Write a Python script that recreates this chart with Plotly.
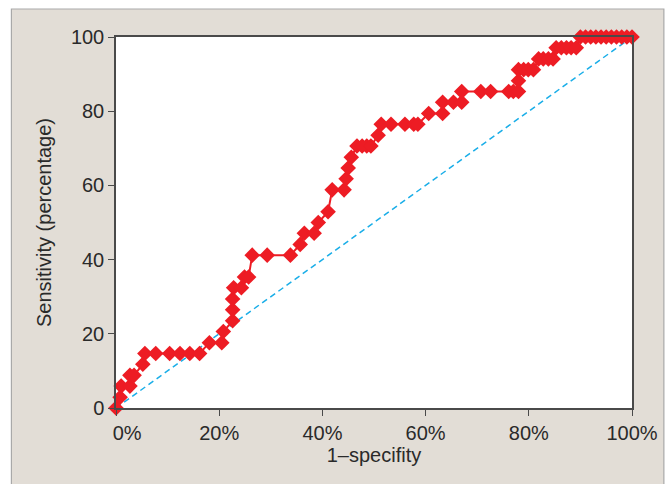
import plotly.graph_objects as go

# 1-specificity (%) and sensitivity (%)
fpr = [0, 0.8, 1.0, 2.7, 2.7, 3.5, 5.2, 5.6, 7.7, 10.4, 12.4, 14.3, 16.2, 18.1, 20.5, 20.8,
       22.6, 22.6, 22.6, 22.8, 24.3, 24.9, 25.7, 26.4, 29.3, 33.8, 35.7, 36.5, 38.4, 39.2,
       41.1, 41.9, 44.2, 44.6, 45.0, 45.6, 46.7, 47.7, 48.6, 49.4, 50.8, 51.4, 53.3, 56.0,
       57.7, 58.5, 60.6, 63.3, 63.3, 65.4, 67.0, 67.0, 70.7, 72.6, 76.1, 77.0, 78.0, 78.0,
       78.0, 79.0, 79.9, 80.9, 81.9, 82.8, 83.8, 84.7, 85.3, 86.3, 87.3, 88.2, 89.2,
       90.0, 91.0, 92.0, 93.0, 94.0, 95.0, 96.0, 97.0, 98.0, 99.0, 100.0]
sens = [0, 2.9, 5.9, 5.9, 8.8, 8.8, 11.8, 14.7, 14.7, 14.7, 14.7, 14.7, 14.7, 17.6, 17.6, 20.6,
        23.5, 26.5, 29.4, 32.4, 32.4, 35.3, 35.3, 41.2, 41.2, 41.2, 44.1, 47.1, 47.1, 50.0,
        52.9, 58.8, 58.8, 61.8, 64.7, 67.6, 70.6, 70.6, 70.6, 70.6, 73.5, 76.5, 76.5, 76.5,
        76.5, 76.5, 79.4, 79.4, 82.4, 82.4, 82.4, 85.3, 85.3, 85.3, 85.3, 85.3, 85.3, 88.2,
        91.2, 91.2, 91.2, 91.2, 94.1, 94.1, 94.1, 94.1, 97.1, 97.1, 97.1, 97.1, 97.1,
        100, 100, 100, 100, 100, 100, 100, 100, 100, 100, 100]
ref_x = [0, 100]
ref_y = [0, 100]
x_ticks = [0, 20, 40, 60, 80, 100]
x_ticktext = ["\u00a0\u00a0\u00a0\u00a00%", "20%", "40%", "60%", "80%", "100%"]
y_ticks = [0, 20, 40, 60, 80, 100]

fig = go.Figure()
fig.add_trace(go.Scatter(x=ref_x, y=ref_y, mode="lines",
                         line=dict(color="#1aaee8", width=1.5, dash="6px,4px"),
                         hoverinfo="skip", cliponaxis=False))
fig.add_trace(go.Scatter(x=fpr, y=sens, mode="lines+markers",
                         line=dict(color="#ed1c24", width=2),
                         marker=dict(symbol="diamond", size=12, color="#ed1c24"),
                         cliponaxis=False))

L, R, T, B = 116, 36, 37, 76
W, H = 670, 484
pw, ph = W - L - R, H - T - B

def px(xp):
    return (xp - L) / pw

def py(yp):
    return (H - B - yp) / ph

shapes = [
    # white strips outside the beige frame
    dict(type="rect", xref="paper", yref="paper", x0=px(-5), x1=px(11), y0=py(495), y1=py(-5),
         fillcolor="white", line=dict(width=0), layer="below"),
    dict(type="rect", xref="paper", yref="paper", x0=px(-5), x1=px(675), y0=py(9), y1=py(-5),
         fillcolor="white", line=dict(width=0), layer="below"),
    dict(type="rect", xref="paper", yref="paper", x0=px(666), x1=px(675), y0=py(495), y1=py(-5),
         fillcolor="white", line=dict(width=0), layer="below"),
    dict(type="rect", xref="paper", yref="paper", x0=px(11), x1=px(666), y0=py(492), y1=py(9),
         fillcolor="rgba(0,0,0,0)", line=dict(width=1.2, color="#a9a9a9"), layer="below"),
]

axis_common = dict(showgrid=False, zeroline=False, showline=True, linecolor="#4a4a4a",
                   linewidth=1.5, mirror=True, ticks="outside", ticklen=6, tickwidth=1.2,
                   tickcolor="#4a4a4a",
                   tickfont=dict(family="Liberation Sans, Arial, sans-serif", size=20, color="#2a2a2a"))

fig.update_layout(
    width=W, height=H,
    margin=dict(l=L, r=R, t=T, b=B),
    paper_bgcolor="#e2ddd6",
    plot_bgcolor="white",
    showlegend=False,
    shapes=shapes,
    xaxis=dict(range=[0, 100], tickvals=x_ticks, ticktext=x_ticktext,
               title=dict(text="1–specifity", standoff=4,
                          font=dict(family="Liberation Sans, Arial, sans-serif", size=20, color="#2a2a2a")),
               **axis_common),
    yaxis=dict(range=[0, 100], tickvals=y_ticks,
               title=dict(text="Sensitivity (percentage)", standoff=14,
                          font=dict(family="Liberation Sans, Arial, sans-serif", size=20, color="#2a2a2a")),
               **axis_common),
)

fig.write_html("out.html")
